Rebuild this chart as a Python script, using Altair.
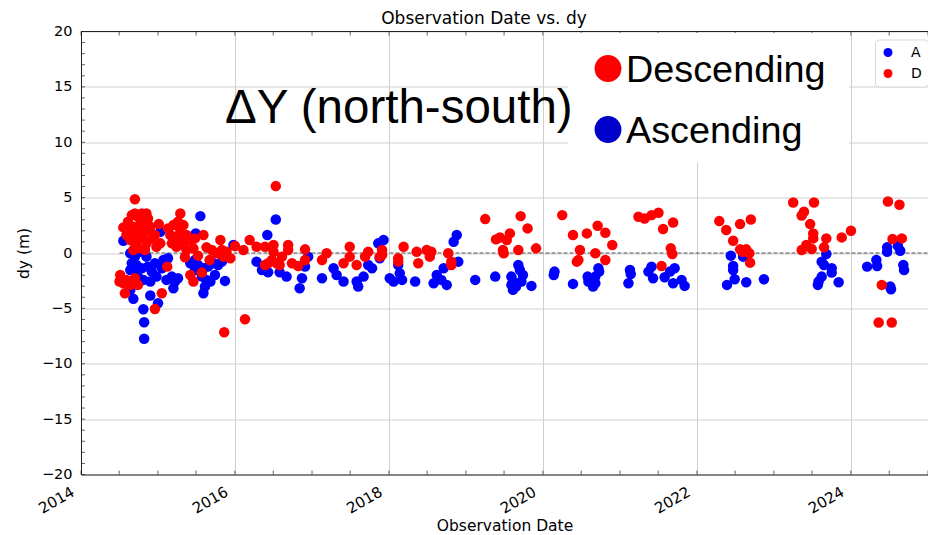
import altair as alt
import pandas as pd

# ---------------- data ----------------
A_YEAR = [
    2014.55, 2015.03, 2015.49, 2015.55, 2016.42, 2016.53, 2014.64, 2014.70, 2014.77, 2014.83,
    2014.66, 2014.72, 2014.64, 2014.70, 2014.79, 2014.74, 2014.81, 2014.64, 2014.68, 2014.85,
    2014.87, 2014.92, 2014.90, 2014.98, 2014.96, 2015.05, 2015.07, 2015.13, 2015.11, 2015.18,
    2015.22, 2015.26, 2015.20, 2014.90, 2015.00, 2014.81, 2014.82, 2014.82, 2015.42, 2015.48,
    2015.52, 2015.59, 2015.65, 2015.72, 2015.78, 2015.83, 2015.57, 2015.63, 2015.61, 2015.59,
    2015.68, 2015.74, 2015.87, 2015.48, 2016.28, 2016.35, 2016.43, 2016.58, 2015.98, 2016.67,
    2016.87, 2016.84, 2016.91, 2016.95, 2017.13, 2017.28, 2017.32, 2017.41, 2017.58, 2017.60,
    2017.67, 2017.73, 2017.78, 2017.86, 2017.93, 2017.88, 2018.01, 2018.06, 2018.12, 2018.14,
    2018.17, 2018.34, 2018.58, 2018.62, 2018.71, 2018.68, 2018.75, 2018.84, 2018.88, 2018.90,
    2019.12, 2019.38, 2019.59, 2019.61, 2019.59, 2019.61, 2019.65, 2019.68, 2019.70, 2019.74,
    2019.72, 2019.85, 2020.15, 2020.14, 2020.39, 2020.58, 2020.59, 2020.65, 2020.68, 2020.72,
    2020.73, 2020.68, 2021.11, 2021.13, 2021.14, 2021.37, 2021.41, 2021.43, 2021.58, 2021.65,
    2021.71, 2021.69, 2021.80, 2021.84, 2022.44, 2022.47, 2022.47, 2022.49, 2022.39, 2022.64,
    2022.87, 2022.60, 2023.68, 2023.62, 2023.65, 2023.75, 2023.75, 2023.62, 2023.58, 2023.57,
    2023.84, 2024.21, 2024.33, 2024.34, 2024.47, 2024.47, 2024.61, 2024.64, 2024.68, 2024.69,
    2024.51, 2024.52,
]
A_DY = [
    1.11, 1.92, 1.77, 3.33, 1.62, 3.03, -0.03, -0.33, 0.12, 0.27,
    -0.93, -1.08, -1.53, -1.68, -1.38, -2.13, -2.43, -3.33, -4.14, -0.33,
    -1.23, -1.68, -2.58, -2.13, -0.93, -1.38, -0.63, -0.48, -2.43, -2.13,
    -2.58, -2.28, -3.18, -3.84, -4.53, -5.08, -6.25, -7.75, -0.93, -0.63,
    -1.08, -1.38, -1.23, -0.93, -1.08, -0.78, -2.13, -2.43, -3.03, -3.63,
    -2.58, -1.98, -2.52, -1.53, -0.78, -1.53, -1.74, -1.74, 0.72, -2.13,
    -2.28, -3.18, -1.23, -0.33, -2.28, -1.38, -1.98, -2.58, -2.58, -3.03,
    -2.13, -1.08, -1.38, 0.87, 1.17, -0.48, -2.28, -2.58, -1.08, -1.83,
    -2.43, -2.58, -2.73, -1.98, -1.38, -2.43, -2.88, 1.02, 1.62, -0.78,
    -2.43, -2.13, -2.13, -2.58, -2.88, -3.33, -3.03, -1.08, -1.53, -1.98,
    -2.58, -2.97, -1.68, -1.98, -2.79, -2.13, -2.58, -3.03, -2.73, -1.38,
    -1.68, -2.13, -2.73, -1.53, -1.89, -1.68, -1.23, -2.28, -2.19, -1.68,
    -1.38, -2.73, -2.43, -2.97, -0.24, -1.17, -1.53, -2.37, -2.88, -2.64,
    -2.37, -0.33, -0.09, -0.78, -1.08, -1.38, -1.77, -2.13, -2.58, -2.88,
    -2.64, -1.23, -0.63, -1.17, 0.51, 0.12, 0.63, 0.21, -1.08, -1.53,
    -3.03, -3.27,
]
D_YEAR = [
    2014.70, 2014.55, 2014.61, 2014.66, 2014.70, 2014.74, 2014.79, 2014.85, 2014.87, 2014.83,
    2014.77, 2014.68, 2014.64, 2014.59, 2014.70, 2014.79, 2014.85, 2014.90, 2014.64, 2014.70,
    2014.74, 2014.81, 2014.85, 2014.92, 2014.96, 2014.68, 2014.74, 2014.83, 2014.98, 2015.03,
    2015.01, 2015.29, 2015.26, 2015.20, 2015.13, 2015.29, 2015.33, 2015.16, 2015.22, 2015.29,
    2015.37, 2015.18, 2015.24, 2015.33, 2015.42, 2015.48, 2015.37, 2015.46, 2015.59, 2015.63,
    2015.81, 2015.70, 2015.76, 2015.83, 2015.89, 2015.94, 2015.85, 2015.35, 2015.52, 2015.67,
    2016.00, 2016.11, 2016.19, 2016.28, 2016.39, 2016.50, 2016.43, 2016.54, 2016.58, 2014.51,
    2014.50, 2014.55, 2014.59, 2014.64, 2014.57, 2014.70, 2014.74, 2014.68, 2015.12, 2015.42,
    2015.46, 2015.57, 2015.05, 2014.96, 2016.13, 2015.86, 2016.53, 2016.50, 2016.39, 2016.48,
    2016.61, 2016.69, 2016.69, 2016.74, 2016.82, 2016.91, 2016.91, 2017.13, 2017.19, 2017.41,
    2017.49, 2017.49, 2017.58, 2017.69, 2017.73, 2017.91, 2017.91, 2017.88, 2018.19, 2018.12,
    2018.12, 2018.36, 2018.38, 2018.49, 2018.55, 2018.53, 2018.77, 2018.81, 2018.81, 2019.25,
    2019.39, 2019.44, 2019.53, 2019.57, 2019.48, 2019.49, 2019.68, 2019.71, 2019.80, 2019.91,
    2020.25, 2020.39, 2020.48, 2020.46, 2020.44, 2020.57, 2020.68, 2020.71, 2020.81, 2020.81,
    2020.90, 2021.24, 2021.32, 2021.41, 2021.50, 2021.56, 2021.69, 2021.66, 2021.68, 2021.54,
    2022.29, 2022.38, 2022.47, 2022.56, 2022.70, 2022.56, 2022.64, 2022.68, 2022.59, 2022.69,
    2023.25, 2023.36, 2023.39, 2023.47, 2023.51, 2023.51, 2023.42, 2023.36, 2023.49, 2023.68,
    2023.65, 2023.88, 2024.00, 2023.52, 2024.48, 2024.63, 2024.54, 2024.66, 2024.40, 2024.36,
    2024.53,
]
D_DY = [
    4.86, 2.31, 2.82, 3.42, 3.57, 3.27, 3.57, 3.57, 3.12, 2.82,
    2.52, 2.37, 1.92, 1.62, 1.62, 1.92, 2.07, 2.37, 1.17, 0.87,
    1.17, 1.32, 0.87, 1.32, 1.62, 0.27, 0.42, 0.27, 0.57, 0.87,
    2.61, 3.57, 2.82, 2.52, 2.22, 2.07, 2.52, 1.62, 1.47, 1.32,
    1.62, 0.87, 0.57, 0.72, 1.17, 1.32, 0.27, 0.42, 1.62, 0.51,
    1.17, 0.27, -0.03, 0.27, 0.12, -0.48, -0.33, -0.39, -0.24, -0.63,
    0.63, 0.27, 1.17, 0.57, 0.57, 0.72, -0.93, -0.93, -1.08, -1.98,
    -2.58, -2.73, -2.43, -2.88, -3.63, -2.28, -2.88, -2.58, -1.23, -1.98,
    -2.58, -1.77, -3.63, -5.05, -5.98, -7.15, 6.04, 0.12, -1.08, -0.63,
    -0.33, 0.72, 0.27, -0.93, -1.17, 0.33, -0.63, -0.63, -0.03, -0.93,
    0.57, -0.33, -1.08, -0.33, 0.12, 0.27, -0.18, -0.33, 0.57, -0.48,
    -0.78, 0.12, -0.93, 0.27, 0.12, -0.33, -0.03, -0.78, -1.08, 3.06,
    1.23, 1.41, 1.17, 1.77, 0.27, -0.03, 0.27, 3.33, 2.22, 0.42,
    3.42, 1.62, 0.27, -0.63, -0.78, 1.77, -0.03, 2.46, 1.83, -0.63,
    0.72, 3.27, 3.12, 3.42, 3.63, 2.16, 2.76, 0.42, -0.09, -1.17,
    2.88, 2.07, 1.11, 2.61, 3.03, 0.33, 0.33, -0.03, 0.12, -0.87,
    4.56, 3.39, 3.72, 2.61, 1.77, 1.32, 0.72, 0.27, 0.36, 1.32,
    0.51, 1.41, 2.01, 4.56, 4.65, 4.35, 1.26, 1.32, -2.88, -6.28,
    -6.28,
]

SERIES = ["A", "D"]
SERIES_COLORS = ["#0000ff", "#ff0000"]
X_MAJOR_YEARS = [2014, 2016, 2018, 2020, 2022, 2024]
Y_MAJOR = [-20, -15, -10, -5, 0, 5, 10, 15, 20]
Y_MINOR = list(range(-20, 21))
Y_DOMAIN = [-20, 20]

TITLE = "Observation Date vs. dy"
X_TITLE = "Observation Date"
Y_TITLE = "dy (m)"
BIG_LABEL = "ΔY (north-south)"
KEY_LABELS = ["Descending", "Ascending"]
KEY_COLORS = ["#ff0000", "#0000cc"]

# ---------------- layout ----------------
W, H = 847, 443
AX = "#222222"
GRID = "#cfcfcf"


def year_to_ts(y):
    return pd.Timestamp("2014-01-01") + pd.Timedelta(days=(y - 2014.0) * 365.25)


df = pd.DataFrame({
    "date": [year_to_ts(v) for v in A_YEAR + D_YEAR],
    "dy": A_DY + D_DY,
    "orbit": ["A"] * len(A_YEAR) + ["D"] * len(D_YEAR),
})

xscale = alt.Scale(domain=[alt.DateTime(year=2014, month=1, date=1),
                           alt.DateTime(year=2025, month=1, date=1)])
yscale = alt.Scale(domain=Y_DOMAIN)

x_axis = alt.Axis(
    values=[alt.DateTime(year=y, month=1, date=1) for y in X_MAJOR_YEARS],
    format="%Y", labelAngle=330, labelAlign="right", labelBaseline="alphabetic",
    labelPadding=20, labelOffset=-6, labelFlush=False, labelOverlap=False,
    ticks=False, grid=True, gridColor=GRID, gridWidth=1,
    domainColor=AX, domainWidth=1,
    labelFont="DejaVu Sans", labelFontSize=15, labelColor="black",
    title=X_TITLE, titleFont="DejaVu Sans", titleFontSize=15.5,
    titleFontWeight="normal", titleColor="black", titlePadding=2,
)
y_axis = alt.Axis(
    values=Y_MAJOR, labelFlush=False, labelOverlap=False,
    ticks=False, grid=True, gridColor=GRID, gridWidth=1,
    domainColor=AX, domainWidth=1, labelPadding=9,
    labelFont="DejaVu Sans", labelFontSize=14.5, labelColor="black",
    title=Y_TITLE, titleFont="DejaVu Sans", titleFontSize=15.5,
    titleFontWeight="normal", titleColor="black", titlePadding=10,
)

X_ENC = alt.X("date:T", scale=xscale, axis=x_axis)
Y_ENC = alt.Y("dy:Q", scale=yscale, axis=y_axis)

points = alt.Chart(df).mark_circle(size=110, opacity=1).encode(
    x=X_ENC,
    y=Y_ENC,
    color=alt.Color(
        "orbit:N",
        scale=alt.Scale(domain=SERIES, range=SERIES_COLORS),
        legend=alt.Legend(
            title=None, orient="none", legendX=794, legendY=8, padding=6,
            fillColor="white", strokeColor="#d9d9d9", cornerRadius=4,
            symbolType="circle", symbolSize=80, symbolOpacity=1,
            labelFont="DejaVu Sans", labelFontSize=14, labelColor="black",
            labelOffset=16, rowPadding=7,
        ),
    ),
)

# zero reference line starting at the first observation
zero_df = pd.DataFrame({"date": [df["date"].min()], "dy": [0]})
zero_line = alt.Chart(zero_df).mark_rule(color="#333333", strokeWidth=1, strokeDash=[4, 2], opacity=0.85).encode(
    x=X_ENC, x2=alt.value(W), y=Y_ENC,
)

# inward minor/major ticks (matplotlib style)
xt_df = pd.DataFrame({"date": pd.date_range("2014-01-01", "2025-01-01", freq="6MS")})
x_ticks_bottom = alt.Chart(xt_df).mark_tick(size=4, thickness=1, color=AX).encode(
    x=X_ENC, y=alt.value(H - 2))
x_ticks_top = alt.Chart(xt_df).mark_tick(size=4, thickness=1, color=AX).encode(
    x=X_ENC, y=alt.value(2))
yt_df = pd.DataFrame({"dy": Y_MINOR})
y_ticks = alt.Chart(yt_df).mark_tick(size=4, thickness=1, color=AX).encode(
    y=Y_ENC, x=alt.value(2))

top_border = alt.Chart(pd.DataFrame({"k": [0]})).mark_rule(color=AX, strokeWidth=1).encode(
    x=alt.value(0), x2=alt.value(W), y=alt.value(0))

title_txt = alt.Chart(pd.DataFrame({"t": [TITLE]})).mark_text(
    font="DejaVu Sans", fontSize=17, color="black", align="center", baseline="alphabetic"
).encode(text="t:N", x=alt.value(403), y=alt.value(-8))

# overlay annotation
white_box = alt.Chart(pd.DataFrame({"k": [0]})).mark_rect(color="white", opacity=1).encode(
    x=alt.value(487), x2=alt.value(768), y=alt.value(1.5), y2=alt.value(131))

big_txt = alt.Chart(pd.DataFrame({"t": [BIG_LABEL]})).mark_text(
    font="Liberation Sans", fontSize=47.5, color="black", align="left", baseline="alphabetic"
).encode(text="t:N", x=alt.value(144), y=alt.value(91))

key_layers = []
for lbl, col, ypix in zip(KEY_LABELS, KEY_COLORS, [37, 98]):
    key_layers.append(
        alt.Chart(pd.DataFrame({"t": [lbl]})).mark_circle(size=720, opacity=1, color=col).encode(
            x=alt.value(527), y=alt.value(ypix)))
    key_layers.append(
        alt.Chart(pd.DataFrame({"t": [lbl]})).mark_text(
            font="Liberation Sans", fontSize=37.8, color="black", align="left",
            baseline="alphabetic").encode(text="t:N", x=alt.value(545), y=alt.value(ypix + 13.5)))

chart = alt.layer(
    zero_line, points, x_ticks_bottom, x_ticks_top, y_ticks, top_border, title_txt,
    white_box, big_txt, *key_layers,
).properties(
    width=W, height=H,
    padding={"left": 73, "top": 23.5, "right": 0, "bottom": 60.5},
    autosize=alt.AutoSizeParams(type="none"),
    background="white",
).configure_view(stroke=None)

chart.save("out.html", embed_options={"renderer": "svg", "actions": False})
